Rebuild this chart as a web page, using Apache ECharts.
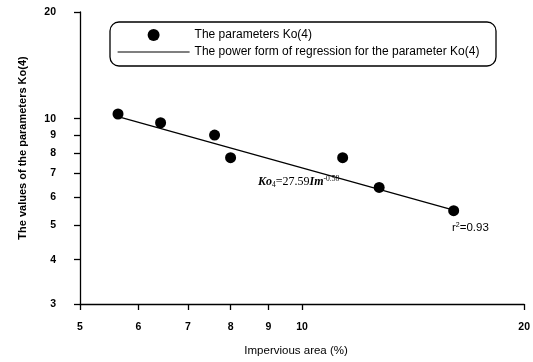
<!DOCTYPE html>
<html>
<head>
<meta charset="utf-8">
<script src="https://cdn.jsdelivr.net/npm/echarts@6/dist/echarts.min.js"></script>
<style>
  html, body { margin: 0; padding: 0; background: #fff; }
  #chart { width: 533px; height: 362px; }
</style>
</head>
<body>
<div id="chart"></div>
<script>
// Impervious area (%) and the fitted parameter Ko(4)
const imperviousArea = [5.63, 6.43, 7.61, 8.00, 11.35, 12.72, 16.05];
const koValues = [10.31, 9.74, 8.99, 7.76, 7.76, 6.40, 5.50];

// Power-law regression Ko4 = 27.59 * Im^-0.58, end points over the data range
const fitX = [5.63, 16.05];
const fitY = [10.13, 5.52];

// Tick labels
const xTicks = [5, 6, 7, 8, 9, 10, 20];
const yTicks = [3, 4, 5, 6, 7, 8, 9, 10, 20];

const pointName = 'The parameters Ko(4)';
const fitName = 'The power form of regression for the parameter Ko(4)';

const sans = 'Liberation Sans, Arial, sans-serif';
const serif = 'Liberation Serif, Times New Roman, serif';

const chart = echarts.init(document.getElementById('chart'), null, { renderer: 'canvas' });

chart.setOption({
  animation: false,
  backgroundColor: '#fff',
  grid: { left: 80, right: 6, top: 12, bottom: 58, containLabel: false },
  xAxis: {
    type: 'log',
    logBase: 10,
    min: 5,
    max: 20,
    name: 'Impervious area (%)',
    nameLocation: 'middle',
    nameGap: 41,
    nameTextStyle: { fontFamily: sans, fontSize: 11.5, color: '#000', padding: [0, 12, 0, 0] },
    axisLine: { lineStyle: { color: '#000', width: 1.3 } },
    axisTick: { show: true, inside: false, length: 6, customValues: xTicks, lineStyle: { color: '#000', width: 1.3 } },
    axisLabel: { customValues: xTicks, margin: 18, fontFamily: sans, fontSize: 10.5, fontWeight: 'bold', color: '#000', formatter: v => String(Math.round(v)) },
    splitLine: { show: false },
    minorTick: { show: false }
  },
  yAxis: {
    type: 'log',
    logBase: 10,
    min: 3,
    max: 20,
    name: 'The values of the parameters Ko(4)',
    nameLocation: 'middle',
    nameGap: 52,
    nameTextStyle: { fontFamily: sans, fontSize: 11, fontWeight: 'bold', color: '#000', padding: [0, 0, 0, 20] },
    axisLine: { lineStyle: { color: '#000', width: 1.3 } },
    axisTick: { show: true, inside: false, length: 6, customValues: yTicks, lineStyle: { color: '#000', width: 1.3 } },
    axisLabel: { customValues: yTicks, margin: 24, fontFamily: sans, fontSize: 10.5, fontWeight: 'bold', color: '#000', formatter: v => String(Math.round(v)) },
    splitLine: { show: false }
  },
  legend: {
    orient: 'vertical',
    left: 110,
    top: 26,
    padding: [3, 8, 3, 7],
    itemWidth: 72,
    itemHeight: 12,
    itemGap: 5,
    textStyle: { fontFamily: sans, fontSize: 12, color: '#000' },
    data: [
      { name: pointName, icon: 'circle', itemStyle: { color: '#000', opacity: 1 } },
      { name: fitName, itemStyle: { color: 'rgba(0,0,0,0)', borderWidth: 0, opacity: 0 }, lineStyle: { color: '#000', width: 1.2 } }
    ]
  },
  graphic: [
    {
      type: 'rect',
      shape: { x: 110, y: 22, width: 386, height: 44, r: 9 },
      style: { fill: 'none', stroke: '#000', lineWidth: 1.3 },
      z: 0
    },
    {
      type: 'text',
      left: 258,
      top: 175,
      style: {
        text: '{i|Ko}{sub|4}{n|=27.59}{i|Im}{sup|-0.58}',
        rich: {
          i: { fontFamily: serif, fontStyle: 'italic', fontWeight: 'bold', fontSize: 12, fill: '#000' },
          n: { fontFamily: serif, fontSize: 12, fill: '#000' },
          sub: { fontFamily: serif, fontSize: 7.5, fill: '#000', padding: [6, 0, 0, 0] },
          sup: { fontFamily: serif, fontSize: 7.5, fill: '#000', padding: [0, 0, 6, 0] }
        }
      }
    },
    {
      type: 'text',
      left: 452,
      top: 222,
      style: {
        text: 'r{s|2}=0.93',
        font: '11.5px ' + sans,
        fill: '#000',
        rich: { s: { fontFamily: sans, fontSize: 7, fill: '#000', padding: [0, 0, 5, 0] } }
      }
    }
  ],
  series: [
    {
      name: fitName,
      type: 'line',
      data: fitX.map((x, i) => [x, fitY[i]]),
      symbol: 'none',
      lineStyle: { color: '#000', width: 1.2 },
      z: 2
    },
    {
      name: pointName,
      type: 'scatter',
      data: imperviousArea.map((x, i) => [x, koValues[i]]),
      symbol: 'circle',
      symbolSize: 11,
      itemStyle: { color: '#000', opacity: 1 },
      z: 3
    }
  ]
});
</script>
</body>
</html>
